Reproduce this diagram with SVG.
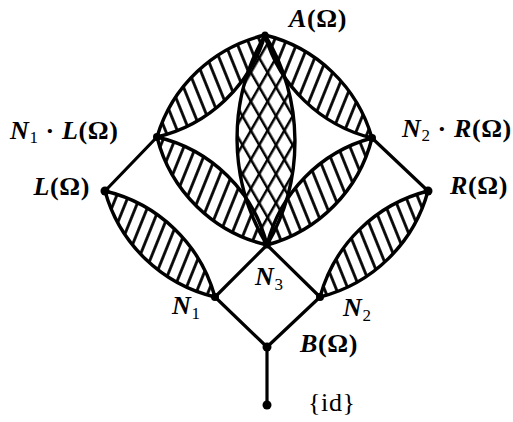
<svg xmlns="http://www.w3.org/2000/svg" width="513" height="422" viewBox="0 0 513 422">
<style>
.out{fill:none;stroke:#000;stroke-width:3.4;stroke-linejoin:round}
.ln{stroke:#000;stroke-width:3.2;stroke-linecap:round}
.dot{fill:#000}
text{font-family:"Liberation Serif","Times New Roman",serif;font-size:26px;font-weight:bold;letter-spacing:0.6px;fill:#000}
.it{font-style:italic}
.sub{font-size:17px;font-weight:normal}
.rg{font-weight:normal}
</style>
<defs>
<pattern id="hR" patternUnits="userSpaceOnUse" width="11" height="11" patternTransform="rotate(22)"><line x1="5.5" y1="0" x2="5.5" y2="11" stroke="#000" stroke-width="2.8"/></pattern>
<pattern id="hL" patternUnits="userSpaceOnUse" width="11" height="11" patternTransform="rotate(-22)"><line x1="5.5" y1="0" x2="5.5" y2="11" stroke="#000" stroke-width="2.8"/></pattern>
<pattern id="xA" patternUnits="userSpaceOnUse" width="14.5" height="14.5" patternTransform="rotate(30)"><line x1="7" y1="0" x2="7" y2="14.5" stroke="#000" stroke-width="2.5"/></pattern>
<pattern id="xB" patternUnits="userSpaceOnUse" width="14.5" height="14.5" patternTransform="rotate(-30)"><line x1="7" y1="0" x2="7" y2="14.5" stroke="#000" stroke-width="2.5"/></pattern>
</defs>
<rect width="513" height="422" fill="#fff"/>
<g id="lenses">
<path d="M157 137 A148 148 0 0 1 265 35 A148 148 0 0 1 157 137 Z" fill="url(#hL)"/>
<path d="M157 137 A148 148 0 0 1 267 245 A148 148 0 0 1 157 137 Z" fill="url(#hR)"/>
<path d="M265 35 A148 148 0 0 1 372 138 A148 148 0 0 1 265 35 Z" fill="url(#hR)"/>
<path d="M372 138 A148 148 0 0 1 267 245 A148 148 0 0 1 372 138 Z" fill="url(#hL)"/>
<path d="M105 191 A150 150 0 0 1 215 297 A150 150 0 0 1 105 191 Z" fill="url(#hR)"/>
<path d="M428 191 A150 150 0 0 1 320 297 A150 150 0 0 1 428 191 Z" fill="url(#hL)"/>
<path d="M265 35 A205 205 0 0 1 267 245 A205 205 0 0 1 265 35 Z" fill="#fff"/>
<path d="M265 35 A205 205 0 0 1 267 245 A205 205 0 0 1 265 35 Z" fill="url(#xA)"/>
<path d="M265 35 A205 205 0 0 1 267 245 A205 205 0 0 1 265 35 Z" fill="url(#xB)"/>
</g>
<g id="connectors">
<path class="out" d="M157 137 A148 148 0 0 1 265 35 A148 148 0 0 1 157 137 Z"/>
<path class="out" d="M157 137 A148 148 0 0 1 267 245 A148 148 0 0 1 157 137 Z"/>
<path class="out" d="M265 35 A148 148 0 0 1 372 138 A148 148 0 0 1 265 35 Z"/>
<path class="out" d="M372 138 A148 148 0 0 1 267 245 A148 148 0 0 1 372 138 Z"/>
<path class="out" d="M105 191 A150 150 0 0 1 215 297 A150 150 0 0 1 105 191 Z"/>
<path class="out" d="M428 191 A150 150 0 0 1 320 297 A150 150 0 0 1 428 191 Z"/>
<path class="out" d="M265 35 A205 205 0 0 1 267 245 A205 205 0 0 1 265 35 Z"/>
<line class="ln" x1="105" y1="191" x2="157" y2="137"/>
<line class="ln" x1="428" y1="191" x2="372" y2="138"/>
<line class="ln" x1="267" y1="245" x2="215" y2="297"/>
<line class="ln" x1="267" y1="245" x2="320" y2="297"/>
<line class="ln" x1="215" y1="297" x2="267" y2="347"/>
<line class="ln" x1="320" y1="297" x2="267" y2="347"/>
<line class="ln" x1="267" y1="347" x2="267" y2="405"/>
</g>
<g id="node-A"><circle class="dot" cx="265" cy="35" r="3.5"/><text x="289" y="27"><tspan class="it">A</tspan>(Ω)</text></g>
<g id="node-N1L"><circle class="dot" cx="157" cy="137" r="4"/><text x="10" y="139"><tspan class="it">N</tspan><tspan class="sub" dy="4">1</tspan><tspan dy="-4"> · </tspan><tspan class="it">L</tspan>(Ω)</text></g>
<g id="node-L"><circle class="dot" cx="105" cy="191" r="4.5"/><text x="90" y="195" text-anchor="end"><tspan class="it">L</tspan>(Ω)</text></g>
<g id="node-N2R"><circle class="dot" cx="372" cy="138" r="4"/><text x="402" y="137"><tspan class="it">N</tspan><tspan class="sub" dy="4">2</tspan><tspan dy="-4"> · </tspan><tspan class="it">R</tspan>(Ω)</text></g>
<g id="node-R"><circle class="dot" cx="428" cy="191" r="4.5"/><text x="450" y="194"><tspan class="it">R</tspan>(Ω)</text></g>
<g id="node-N3"><circle class="dot" cx="267" cy="245" r="3.5"/><text x="255" y="285"><tspan class="it">N</tspan><tspan class="sub" dy="5">3</tspan></text></g>
<g id="node-N1"><circle class="dot" cx="215" cy="297" r="4"/><text x="172" y="314"><tspan class="it">N</tspan><tspan class="sub" dy="5">1</tspan></text></g>
<g id="node-N2"><circle class="dot" cx="320" cy="297" r="4"/><text x="343" y="316"><tspan class="it">N</tspan><tspan class="sub" dy="5">2</tspan></text></g>
<g id="node-B"><circle class="dot" cx="267" cy="347" r="4.5"/><text x="300" y="352"><tspan class="it">B</tspan>(Ω)</text></g>
<g id="node-id"><circle class="dot" cx="267" cy="405" r="4.5"/><text class="rg" x="308" y="411">{id}</text></g>
</svg>
